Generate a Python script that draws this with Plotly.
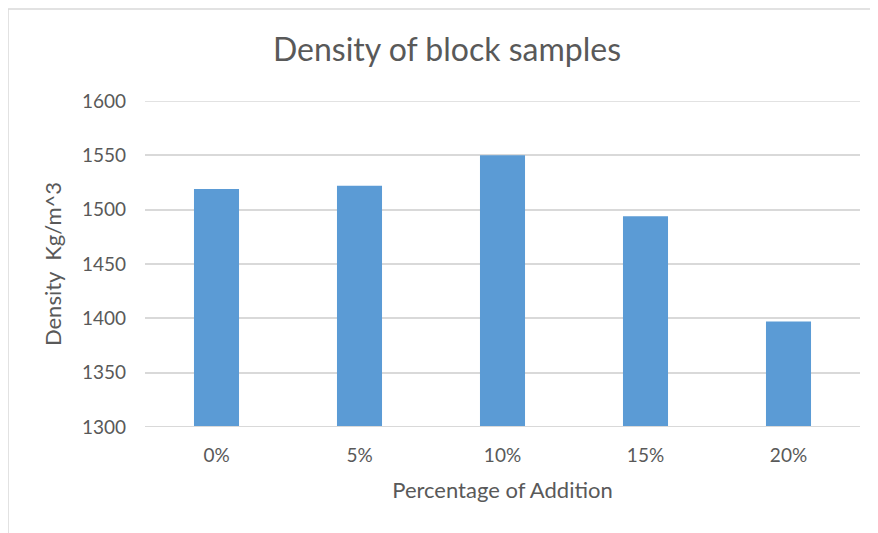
import plotly.graph_objects as go

categories = ["0%", "5%", "10%", "15%", "20%"]
density = [1519, 1522, 1550, 1494, 1397]
y_ticks = [1300, 1350, 1400, 1450, 1500, 1550, 1600]

# page has an 8px body margin; figure coordinates = page coordinates - 8
OFF = 8
W, H = 878 - OFF, 533 - OFF
L, T = 145 - OFF, 101 - OFF
R = W - (860 - OFF)
B = H - (427 - OFF)
pw, ph = W - L - R, H - T - B

def px(x):
    return (x - OFF - L) / pw

def py(y):
    return (H - B - (y - OFF)) / ph

font_family = "Lato, 'Open Sans', sans-serif"
text_color = "#595959"
grid_color = "#D9D9D9"

fig = go.Figure(
    go.Bar(
        x=categories,
        y=density,
        marker=dict(color="#5B9BD5", line=dict(width=0)),
        hoverinfo="x+y",
    )
)

fig.update_layout(
    width=W,
    height=H,
    margin=dict(l=L, r=R, t=T, b=B, autoexpand=False),
    paper_bgcolor="white",
    plot_bgcolor="white",
    bargap=0.685,
    showlegend=False,
    font=dict(family=font_family, color=text_color),
    title=dict(
        text="Density of block samples",
        x=(447 - OFF) / W,
        xanchor="center",
        y=1 - (50 - OFF) / H,
        yanchor="middle",
        font=dict(size=32, color=text_color, family=font_family),
    ),
    xaxis=dict(
        showgrid=False,
        ticks="",
        showline=False,
        ticklabelstandoff=15,
        tickfont=dict(size=19, color=text_color),
        title=dict(text="Percentage of Addition", font=dict(size=22, color=text_color), standoff=17),
    ),
    yaxis=dict(
        range=[1300, 1600],
        tickvals=y_ticks,
        showgrid=True,
        gridcolor=grid_color,
        gridwidth=1.5,
        zeroline=False,
        showline=False,
        ticks="",
        ticklabelstandoff=18,
        tickfont=dict(size=19, color=text_color),
        title=dict(text="Density  Kg/m^3", font=dict(size=22, color=text_color), standoff=14),
    ),
    shapes=[
        dict(
            type="line", xref="paper", yref="paper",
            x0=px(8), x1=px(8), y0=py(545), y1=py(9),
            line=dict(color=grid_color, width=1.5),
        ),
        dict(
            type="line", xref="paper", yref="paper",
            x0=px(8), x1=px(890), y0=py(9), y1=py(9),
            line=dict(color=grid_color, width=1.5),
        ),
        dict(
            type="line", xref="paper", yref="y",
            x0=0, x1=1, y0=1300, y1=1300,
            line=dict(color=grid_color, width=2),
            layer="above",
        ),
        dict(
            type="line", xref="paper", yref="y",
            x0=0, x1=1, y0=1600, y1=1600,
            line=dict(color=grid_color, width=1.5),
            layer="below",
        ),
    ],
)

fig.write_html("out.html")
